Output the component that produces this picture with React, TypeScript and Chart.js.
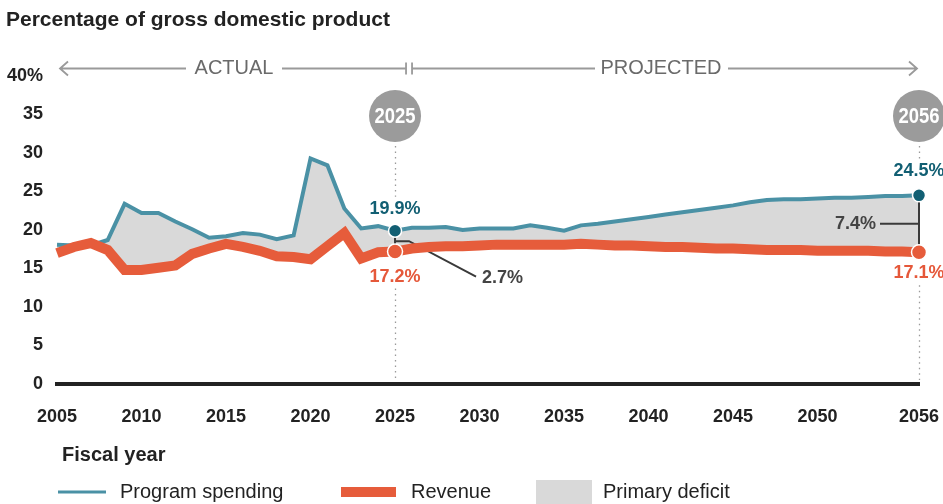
import { useEffect, useRef } from "react";
import { Chart, registerables } from "chart.js";

Chart.register(...registerables);

// Fiscal years on the horizontal axis
const YEARS = [
  2005, 2006, 2007, 2008, 2009, 2010, 2011, 2012, 2013, 2014,
  2015, 2016, 2017, 2018, 2019, 2020, 2021, 2022, 2023, 2024,
  2025, 2026, 2027, 2028, 2029, 2030, 2031, 2032, 2033, 2034,
  2035, 2036, 2037, 2038, 2039, 2040, 2041, 2042, 2043, 2044,
  2045, 2046, 2047, 2048, 2049, 2050, 2051, 2052, 2053, 2054,
  2055, 2056,
];

// Program spending, % of GDP
const PROGRAM_SPENDING = [
  18.1, 18.0, 18.0, 18.7, 23.4, 22.2, 22.2, 21.1, 20.1, 19.0,
  19.2, 19.6, 19.4, 18.8, 19.3, 29.3, 28.4, 22.8, 20.2, 20.5,
  19.9, 20.3, 20.3, 20.4, 20.0, 20.2, 20.2, 20.2, 20.6, 20.3,
  19.9, 20.6, 20.8, 21.1, 21.4, 21.7, 22.0, 22.3, 22.6, 22.9,
  23.2, 23.6, 23.9, 24.0, 24.0, 24.1, 24.2, 24.2, 24.3, 24.4,
  24.4, 24.5,
];

// Revenue, % of GDP
const REVENUE = [
  17.0, 17.8, 18.3, 17.4, 14.8, 14.8, 15.1, 15.4, 16.9, 17.6,
  18.2, 17.8, 17.3, 16.6, 16.5, 16.2, 17.9, 19.6, 16.3, 17.1,
  17.2, 17.6, 17.8, 17.9, 17.9, 18.0, 18.1, 18.1, 18.1, 18.1,
  18.1, 18.2, 18.1, 18.0, 18.0, 17.9, 17.8, 17.8, 17.7, 17.6,
  17.6, 17.5, 17.4, 17.4, 17.4, 17.3, 17.3, 17.3, 17.3, 17.2,
  17.2, 17.1,
];

const X_TICKS = [2005, 2010, 2015, 2020, 2025, 2030, 2035, 2040, 2045, 2050, 2056];
const Y_TICKS = [0, 5, 10, 15, 20, 25, 30, 35, 40];
const MARKED_YEARS = [2025, 2056];

const TITLE = "Percentage of gross domestic product";
const X_TITLE = "Fiscal year";
const PERIOD_LABELS = ["ACTUAL", "PROJECTED"];
const LEGEND_LABELS = ["Program spending", "Revenue", "Primary deficit"];

const FONT = "'Liberation Sans', Arial, Helvetica, sans-serif";
const TEAL = "#4a91a5";
const TEAL_DARK = "#125f73";
const ORANGE = "#e65c3b";
const DEFICIT_FILL = "#d9d9d9";
const INK = "#222222";
const BRACKET = "#3a3a3a";
const GUIDE = "#9a9a9a";

const markIdx = MARKED_YEARS.map((yr) => YEARS.indexOf(yr));
const pointRadii = (r: number) => YEARS.map((yr) => (MARKED_YEARS.includes(yr) ? r : 0));
const pct = (v: number) => v.toFixed(1) + "%";

// label placement around each marked year
const SPEND_LABEL_DY = [-22, -24];
const REV_LABEL_DY = [25, 21];
const BADGE_Y = 116;
const BADGE_R = 26;

const annotations = {
  id: "annotations",
  beforeDatasetsDraw(chart: any) {
    const { ctx } = chart;
    const xs = chart.scales.x;
    const ys = chart.scales.y;
    const zeroY = ys.getPixelForValue(0);
    ctx.save();

    // dotted guides below the year badges
    ctx.strokeStyle = GUIDE;
    ctx.lineWidth = 1.3;
    ctx.setLineDash([1.5, 4]);
    MARKED_YEARS.forEach((yr, k) => {
      const px = Math.round(xs.getPixelForValue(yr)) + 0.5;
      const i = markIdx[k];
      const sy = ys.getPixelForValue(PROGRAM_SPENDING[i]);
      const ry = ys.getPixelForValue(REVENUE[i]);
      const top1 = BADGE_Y + BADGE_R + 4;
      const bot1 = sy + SPEND_LABEL_DY[k] - 12;
      const top2 = ry + REV_LABEL_DY[k] + 12;
      ctx.beginPath();
      ctx.moveTo(px, top1);
      ctx.lineTo(px, bot1);
      ctx.moveTo(px, top2);
      ctx.lineTo(px, zeroY - 4);
      ctx.stroke();
    });
    ctx.setLineDash([]);

    // deficit brackets
    ctx.strokeStyle = BRACKET;
    ctx.lineWidth = 2;
    ctx.fillStyle = "#444";
    ctx.font = `bold 18px ${FONT}`;
    ctx.textBaseline = "middle";
    MARKED_YEARS.forEach((yr, k) => {
      const px = xs.getPixelForValue(yr);
      const i = markIdx[k];
      const sy = ys.getPixelForValue(PROGRAM_SPENDING[i]);
      const ry = ys.getPixelForValue(REVENUE[i]);
      const mid = (sy + ry) / 2;
      const gap = pct(PROGRAM_SPENDING[i] - REVENUE[i]);
      ctx.beginPath();
      ctx.moveTo(px, sy);
      ctx.lineTo(px, ry);
      if (k === 0) {
        ctx.moveTo(px, mid);
        ctx.lineTo(px + 14, mid);
        ctx.lineTo(px + 81, ry + 25);
        ctx.stroke();
        ctx.textAlign = "left";
        ctx.fillText(gap, px + 87, ry + 26);
      } else {
        ctx.moveTo(px - 39, mid);
        ctx.lineTo(px, mid);
        ctx.stroke();
        ctx.textAlign = "right";
        ctx.fillText(gap, px - 43, mid);
      }
    });
    ctx.restore();
  },
  afterDraw(chart: any) {
    const { ctx, chartArea } = chart;
    const xs = chart.scales.x;
    const ys = chart.scales.y;
    ctx.save();

    // title
    ctx.fillStyle = INK;
    ctx.font = `bold 21px ${FONT}`;
    ctx.textAlign = "left";
    ctx.textBaseline = "middle";
    ctx.fillText(TITLE, 6, 20);

    // actual / projected arrows
    const ay = 68.5;
    const split = xs.getPixelForValue(2025);
    const left = chartArea.left + 3;
    const right = chartArea.right - 2;
    ctx.strokeStyle = GUIDE;
    ctx.lineWidth = 1.8;
    ctx.beginPath();
    ctx.moveTo(left, ay);
    ctx.lineTo(186, ay);
    ctx.moveTo(282, ay);
    ctx.lineTo(split + 11, ay);
    ctx.moveTo(split + 17, ay);
    ctx.lineTo(595, ay);
    ctx.moveTo(728, ay);
    ctx.lineTo(right, ay);
    // arrow heads
    ctx.moveTo(left + 8, ay - 7);
    ctx.lineTo(left, ay);
    ctx.lineTo(left + 8, ay + 7);
    ctx.moveTo(right - 8, ay - 7);
    ctx.lineTo(right, ay);
    ctx.lineTo(right - 8, ay + 7);
    // split ticks
    ctx.moveTo(split + 11, ay - 6);
    ctx.lineTo(split + 11, ay + 6);
    ctx.moveTo(split + 17, ay - 6);
    ctx.lineTo(split + 17, ay + 6);
    ctx.stroke();
    ctx.fillStyle = "#6a6a6a";
    ctx.font = `20px ${FONT}`;
    ctx.textAlign = "center";
    ctx.fillText(PERIOD_LABELS[0], 234, ay);
    ctx.fillText(PERIOD_LABELS[1], 661, ay);

    // year badges
    MARKED_YEARS.forEach((yr) => {
      const px = xs.getPixelForValue(yr);
      ctx.fillStyle = "#9b9b9b";
      ctx.beginPath();
      ctx.arc(px, BADGE_Y, BADGE_R, 0, Math.PI * 2);
      ctx.fill();
      ctx.save();
      ctx.translate(px, BADGE_Y + 1);
      ctx.scale(0.84, 1);
      ctx.fillStyle = "#ffffff";
      ctx.font = `bold 22px ${FONT}`;
      ctx.textAlign = "center";
      ctx.fillText(String(yr), 0, 0);
      ctx.restore();
    });

    // value labels
    ctx.font = `bold 18px ${FONT}`;
    ctx.textAlign = "center";
    MARKED_YEARS.forEach((yr, k) => {
      const px = xs.getPixelForValue(yr);
      const i = markIdx[k];
      const sy = ys.getPixelForValue(PROGRAM_SPENDING[i]);
      const ry = ys.getPixelForValue(REVENUE[i]);
      ctx.fillStyle = TEAL_DARK;
      ctx.fillText(pct(PROGRAM_SPENDING[i]), px, sy + SPEND_LABEL_DY[k]);
      ctx.fillStyle = "#e5583a";
      ctx.fillText(pct(REVENUE[i]), px, ry + REV_LABEL_DY[k]);
    });

    // axis title
    ctx.fillStyle = INK;
    ctx.font = `bold 20px ${FONT}`;
    ctx.textAlign = "left";
    ctx.fillText(X_TITLE, 62, 455);

    // legend
    const ly = 492;
    ctx.strokeStyle = TEAL;
    ctx.lineWidth = 3;
    ctx.beginPath();
    ctx.moveTo(58, ly);
    ctx.lineTo(106, ly);
    ctx.stroke();
    ctx.fillStyle = ORANGE;
    ctx.fillRect(341, ly - 5, 55, 10);
    ctx.fillStyle = DEFICIT_FILL;
    ctx.fillRect(536, 480, 56, 30);
    ctx.fillStyle = INK;
    ctx.font = `20px ${FONT}`;
    ctx.fillText(LEGEND_LABELS[0], 120, ly);
    ctx.fillText(LEGEND_LABELS[1], 411, ly);
    ctx.fillText(LEGEND_LABELS[2], 603, ly);

    ctx.restore();
  },
};

export default function App() {
  const ref = useRef<HTMLCanvasElement>(null);

  useEffect(() => {
    const chart = new Chart(ref.current as HTMLCanvasElement, {
      type: "line",
      data: {
        labels: YEARS,
        datasets: [
          {
            label: LEGEND_LABELS[0],
            data: PROGRAM_SPENDING,
            borderColor: TEAL,
            borderWidth: 4,
            tension: 0,
            fill: { target: 1, above: DEFICIT_FILL, below: DEFICIT_FILL },
            pointRadius: pointRadii(6.5),
            pointBackgroundColor: TEAL_DARK,
            pointBorderColor: "#ffffff",
            pointBorderWidth: 1.5,
            clip: false,
            order: 1,
          },
          {
            label: LEGEND_LABELS[1],
            data: REVENUE,
            borderColor: ORANGE,
            borderWidth: 10,
            tension: 0,
            fill: false,
            pointRadius: pointRadii(7.5),
            pointBackgroundColor: ORANGE,
            pointBorderColor: "#ffffff",
            pointBorderWidth: 1.5,
            clip: false,
            order: 0,
          },
        ],
      } as any,
      options: {
        animation: false,
        responsive: false,
        devicePixelRatio: 1,
        layout: { padding: { top: 76, right: 24, bottom: 0, left: 0 } },
        plugins: {
          legend: { display: false },
          tooltip: { enabled: false },
          filler: { drawTime: "beforeDatasetsDraw" },
        } as any,
        scales: {
          x: {
            type: "linear",
            min: 2005,
            max: 2056,
            grid: { display: false, drawTicks: false },
            border: { display: true, color: INK, width: 4 },
            afterBuildTicks: (scale: any) => {
              scale.ticks = X_TICKS.map((v) => ({ value: v }));
            },
            afterFit: (scale: any) => {
              scale.height = 120;
              // the end labels may overhang the plot edges
              scale.paddingLeft = 0;
              scale.paddingRight = 0;
            },
            ticks: {
              autoSkip: false,
              maxRotation: 0,
              padding: 22,
              color: INK,
              font: { family: FONT, size: 18, weight: "bold" },
              callback: (v: any) => String(v),
            },
          },
          y: {
            min: 0,
            max: 40,
            grid: { display: false, drawTicks: false },
            border: { display: false },
            afterBuildTicks: (scale: any) => {
              scale.ticks = Y_TICKS.map((v) => ({ value: v }));
            },
            afterFit: (scale: any) => {
              scale.width = 57;
              scale.paddingTop = 0;
              scale.paddingBottom = 0;
            },
            ticks: {
              padding: 14,
              color: INK,
              font: { family: FONT, size: 18, weight: "bold" },
              callback: (v: any) => (v === 40 ? "40%" : String(v)),
            },
          },
        },
      } as any,
      plugins: [annotations],
    });
    return () => chart.destroy();
  }, []);

  return (
    <div
      style={{
        position: "fixed",
        left: 0,
        top: 0,
        width: 943,
        height: 504,
        background: "#ffffff",
        overflow: "hidden",
      }}
    >
      <canvas ref={ref} width={943} height={504} style={{ display: "block", width: 943, height: 504 }} />
    </div>
  );
}
